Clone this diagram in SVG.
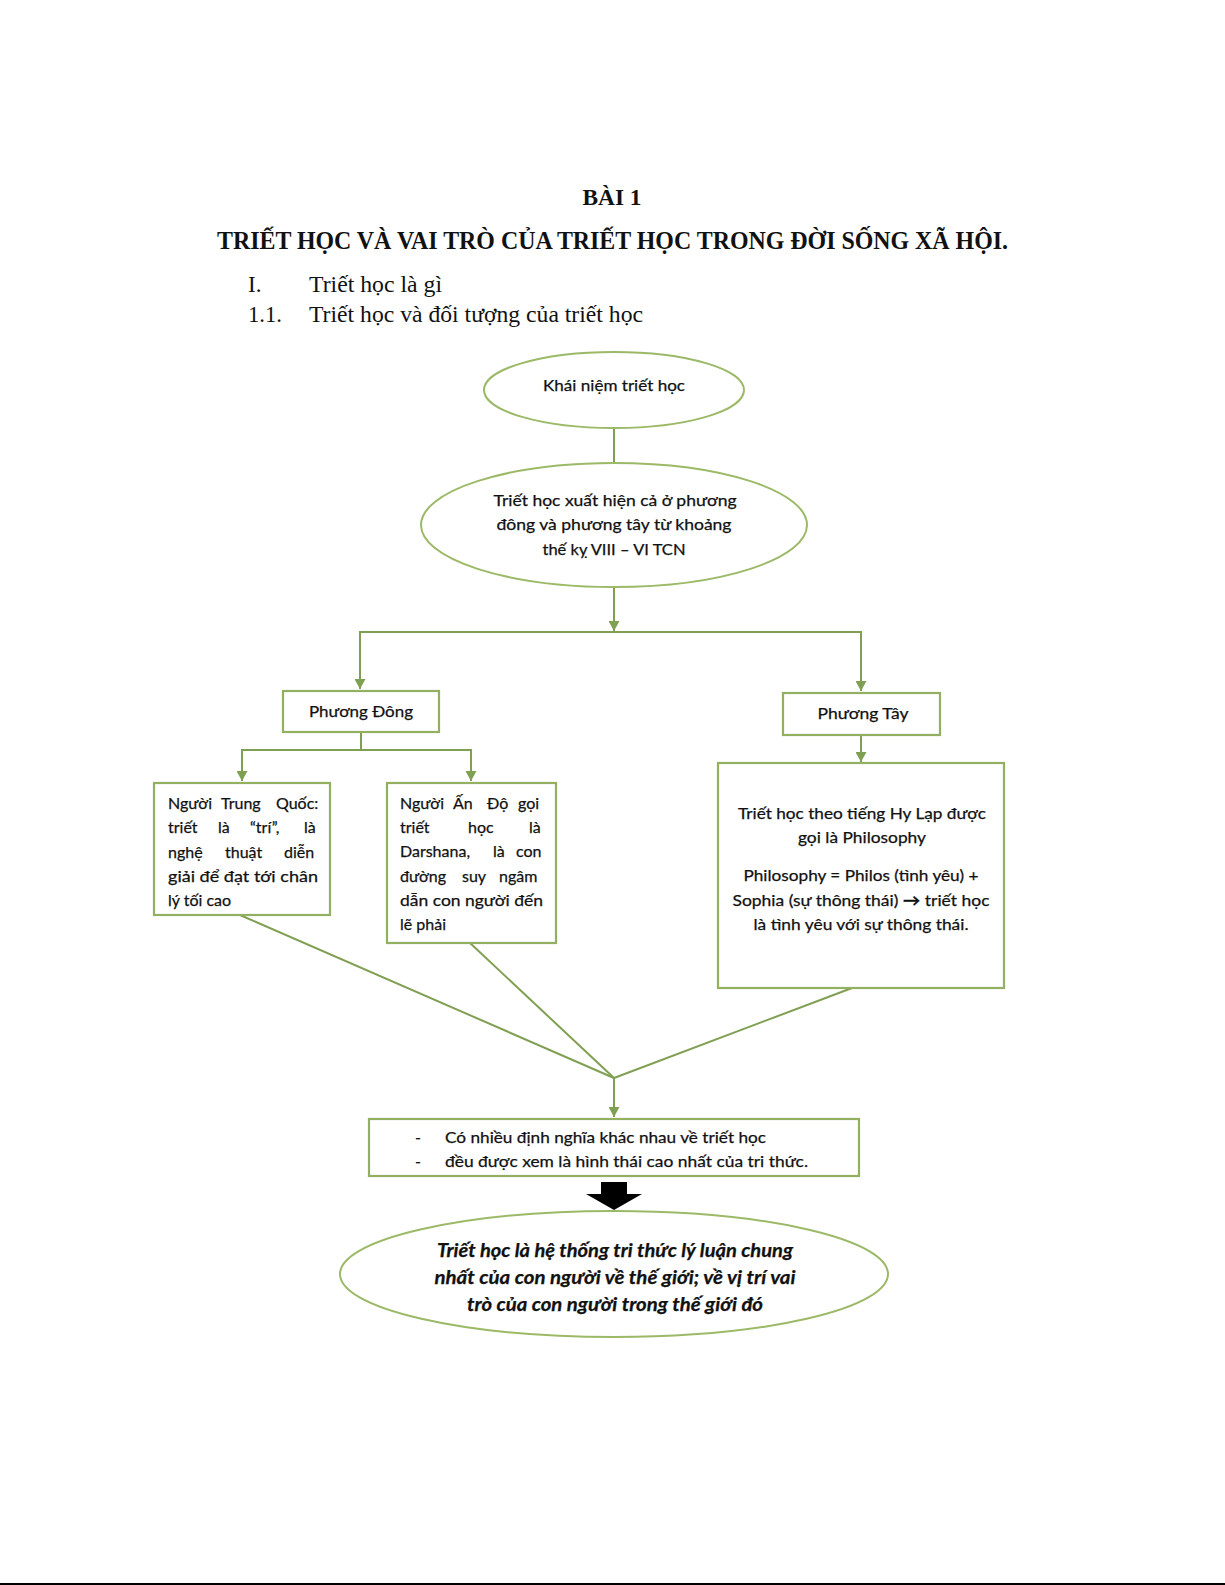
<svg xmlns="http://www.w3.org/2000/svg" width="1225" height="1585" viewBox="0 0 1225 1585">
<defs>
<style>
.serif{font-family:"Liberation Serif","Times New Roman",serif;fill:#111}
.b{font-weight:bold}
.t{font-family:Lato,"Noto Sans",sans-serif;font-size:16px;fill:#111;stroke:#111;stroke-width:0.25}
.bi{font-weight:bold;font-style:italic;font-size:18px}
.shape{fill:#fff;stroke:#9bb966;stroke-width:2}
.box{fill:#fff;stroke:#92b060;stroke-width:2.2}
.con{fill:none;stroke:#7f9f52;stroke-width:2}
</style>
<marker id="ah" markerUnits="userSpaceOnUse" markerWidth="11" markerHeight="11" refX="10" refY="5.5" orient="auto">
<path d="M0,0 L10,5.5 L0,11 z" fill="#7f9f52"/>
</marker>
</defs>
<rect width="1225" height="1585" fill="#fff"/>

<g id="header">
<text class="serif b" x="612" y="205" font-size="23" text-anchor="middle" textLength="59" lengthAdjust="spacingAndGlyphs">BÀI 1</text>
<text class="serif b" x="217" y="249" font-size="26" textLength="791" lengthAdjust="spacingAndGlyphs">TRIẾT HỌC VÀ VAI TRÒ CỦA TRIẾT HỌC TRONG ĐỜI SỐNG XÃ HỘI.</text>
<text class="serif" x="248" y="292" font-size="23">I.</text>
<text class="serif" x="309" y="292" font-size="23" textLength="133" lengthAdjust="spacingAndGlyphs">Triết học là gì</text>
<text class="serif" x="248" y="322" font-size="23" textLength="34" lengthAdjust="spacingAndGlyphs">1.1.</text>
<text class="serif" x="309" y="322" font-size="23" textLength="334" lengthAdjust="spacingAndGlyphs">Triết học và đối tượng của triết học</text>
</g>

<g id="connectors">
<line class="con" x1="614" y1="428" x2="614" y2="463"/>
<line class="con" x1="614" y1="586" x2="614" y2="631" marker-end="url(#ah)"/>
<polyline class="con" points="360,689 360,632 861,632 861,691" marker-end="url(#ah)"/>
<line class="con" x1="360" y1="632" x2="360" y2="689" marker-end="url(#ah)"/>
<line class="con" x1="361" y1="732" x2="361" y2="750"/>
<polyline class="con" points="242,781 242,750 471,750 471,781" marker-end="url(#ah)"/>
<line class="con" x1="242" y1="750" x2="242" y2="781" marker-end="url(#ah)"/>
<line class="con" x1="861" y1="735" x2="861" y2="762" marker-end="url(#ah)"/>
<line class="con" x1="240" y1="915" x2="614" y2="1078"/>
<line class="con" x1="470" y1="943" x2="614" y2="1078"/>
<line class="con" x1="852" y1="988" x2="614" y2="1078"/>
<line class="con" x1="614" y1="1078" x2="614" y2="1117" marker-end="url(#ah)"/>
<path d="M601,1182 H627 V1194 H642 L614,1210 L586,1194 H601 Z" fill="#000"/>
</g>

<g id="n-khainiem">
<ellipse class="shape" cx="614" cy="390" rx="130" ry="38"/>
<text class="t" x="614" y="391" text-anchor="middle" textLength="142" lengthAdjust="spacingAndGlyphs">Khái niệm triết học</text>
</g>

<g id="n-xuathien">
<ellipse class="shape" cx="614" cy="525" rx="193" ry="62"/>
<text class="t" x="615" y="506" text-anchor="middle" textLength="243" lengthAdjust="spacingAndGlyphs">Triết học xuất hiện cả ở phương</text>
<text class="t" x="614" y="530" text-anchor="middle" textLength="235" lengthAdjust="spacingAndGlyphs">đông và phương tây từ khoảng</text>
<text class="t" x="614" y="555" text-anchor="middle" textLength="143" lengthAdjust="spacingAndGlyphs">thế kỵ VIII – VI TCN</text>
</g>

<g id="n-phuongdong">
<rect class="box" x="283" y="691" width="156" height="41"/>
<text class="t" x="361" y="717" text-anchor="middle" textLength="104" lengthAdjust="spacingAndGlyphs">Phương Đông</text>
</g>

<g id="n-phuongtay">
<rect class="box" x="783" y="693" width="157" height="42"/>
<text class="t" x="863" y="719" text-anchor="middle" textLength="91" lengthAdjust="spacingAndGlyphs">Phương Tây</text>
</g>

<g id="n-trungquoc">
<rect class="box" x="154" y="783" width="176" height="132"/>
<text class="t"><tspan x="168" y="809">Người</tspan><tspan x="221" y="809">Trung</tspan><tspan x="276" y="809">Quốc:</tspan></text>
<text class="t"><tspan x="168" y="833">triết</tspan><tspan x="218" y="833">là</tspan><tspan x="250" y="833">“trí”,</tspan><tspan x="304" y="833">là</tspan></text>
<text class="t"><tspan x="168" y="858">nghệ</tspan><tspan x="225" y="858">thuật</tspan><tspan x="284" y="858">diễn</tspan></text>
<text class="t" x="168" y="882" textLength="150" lengthAdjust="spacingAndGlyphs">giải để đạt tới chân</text>
<text class="t" x="168" y="906">lý tối cao</text>
</g>

<g id="n-ando">
<rect class="box" x="387" y="783" width="169" height="160"/>
<text class="t"><tspan x="400" y="809">Người</tspan><tspan x="453" y="809">Ấn</tspan><tspan x="487" y="809">Độ</tspan><tspan x="518" y="809">gọi</tspan></text>
<text class="t"><tspan x="400" y="833">triết</tspan><tspan x="468" y="833">học</tspan><tspan x="529" y="833">là</tspan></text>
<text class="t"><tspan x="400" y="857">Darshana,</tspan><tspan x="493" y="857">là</tspan><tspan x="516" y="857">con</tspan></text>
<text class="t"><tspan x="400" y="882">đường</tspan><tspan x="462" y="882">suy</tspan><tspan x="499" y="882">ngâm</tspan></text>
<text class="t" x="400" y="906" textLength="143" lengthAdjust="spacingAndGlyphs">dẫn con người đến</text>
<text class="t" x="400" y="930">lẽ phải</text>
</g>

<g id="n-philosophy">
<rect class="box" x="718" y="763" width="286" height="225"/>
<text class="t" x="862" y="819" text-anchor="middle" textLength="248" lengthAdjust="spacingAndGlyphs">Triết học theo tiếng Hy Lạp được</text>
<text class="t" x="862" y="843" text-anchor="middle" textLength="128" lengthAdjust="spacingAndGlyphs">gọi là Philosophy</text>
<text class="t" x="861" y="881" text-anchor="middle" textLength="235" lengthAdjust="spacingAndGlyphs">Philosophy = Philos (tình yêu) +</text>
<text class="t" x="861" y="906" text-anchor="middle" textLength="257" lengthAdjust="spacingAndGlyphs">Sophia (sự thông thái) <tspan font-weight="bold">→</tspan> triết học</text>
<text class="t" x="861" y="930" text-anchor="middle" textLength="215" lengthAdjust="spacingAndGlyphs">là tình yêu với sự thông thái.</text>
</g>

<g id="n-dinhnghia">
<rect class="box" x="369" y="1119" width="490" height="57"/>
<text class="t" x="415" y="1143">-</text>
<text class="t" x="445" y="1143" textLength="321" lengthAdjust="spacingAndGlyphs">Có nhiều định nghĩa khác nhau về triết học</text>
<text class="t" x="415" y="1167">-</text>
<text class="t" x="445" y="1167" textLength="363" lengthAdjust="spacingAndGlyphs">đều được xem là hình thái cao nhất của tri thức.</text>
</g>

<g id="n-ketluan">
<ellipse class="shape" cx="614" cy="1274" rx="274" ry="63"/>
<text class="t bi" x="615" y="1257" text-anchor="middle" textLength="356" lengthAdjust="spacingAndGlyphs">Triết học là hệ thống tri thức lý luận chung</text>
<text class="t bi" x="615" y="1284" text-anchor="middle" textLength="361" lengthAdjust="spacingAndGlyphs">nhất của con người về thế giới; về vị trí vai</text>
<text class="t bi" x="615" y="1311" text-anchor="middle" textLength="296" lengthAdjust="spacingAndGlyphs">trò của con người trong thế giới đó</text>
</g>

<rect x="0" y="1583" width="1225" height="2" fill="#000"/>
</svg>
